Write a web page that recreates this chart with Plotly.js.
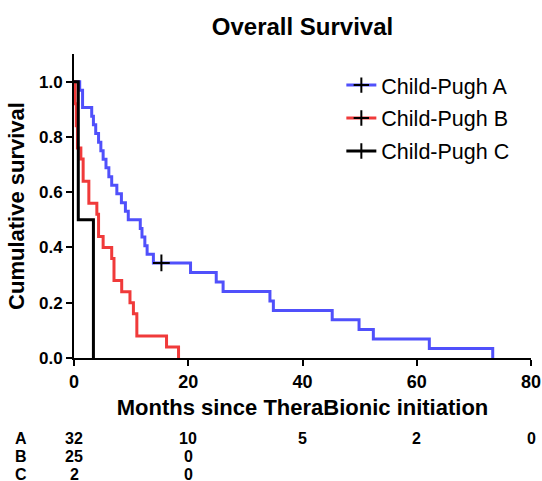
<!DOCTYPE html>
<html>
<head>
<meta charset="utf-8">
<script src="https://cdn.plot.ly/plotly-3.0.1.min.js"></script>
<style>html,body{margin:0;padding:0;background:#fff;}#chart{width:542px;height:481px;}</style>
</head>
<body>
<div id="chart"></div>
<script>
// ---- data ----
const seriesNames = ['Child-Pugh A', 'Child-Pugh B', 'Child-Pugh C'];

const timesA = [0, 1.0, 1.5, 3.1, 3.4, 3.8, 4.3, 4.7, 5.1, 5.6, 6.1, 6.6, 7.5, 8.3, 9.0, 9.5, 11.6, 11.9, 12.4, 12.8, 13.9, 20.4, 24.9, 26.1, 34.3, 34.9, 45.2, 49.9, 52.4, 62.2, 73.3];
const survA  = [1.0, 0.969, 0.906, 0.875, 0.844, 0.812, 0.781, 0.750, 0.719, 0.688, 0.656, 0.625, 0.594, 0.562, 0.531, 0.500, 0.469, 0.438, 0.406, 0.375, 0.344, 0.309, 0.275, 0.241, 0.206, 0.172, 0.138, 0.103, 0.069, 0.034, 0.0];

const timesB = [0, 0.2, 0.4, 0.6, 1.2, 1.6, 2.6, 4.0, 4.3, 5.1, 6.6, 7.0, 8.35, 9.8, 10.4, 11.0, 16.2, 18.3];
const survB  = [1.0, 0.92, 0.84, 0.76, 0.72, 0.64, 0.56, 0.52, 0.44, 0.40, 0.36, 0.28, 0.24, 0.20, 0.16, 0.08, 0.04, 0.0];

const timesC = [0, 0.75, 3.4];
const survC  = [1.0, 0.5, 0.0];

const censorTimesA = [15.3];
const censorSurvA  = [0.344];

const riskTimes = [0, 20, 40, 60, 80];
const riskLabels = ['A', 'B', 'C'];
const riskA = [32, 10, 5, 2, 0];
const riskB = [25, 0];
const riskC = [2, 0];

const xTicks = [0, 20, 40, 60, 80];
const yTicks = [0, 0.2, 0.4, 0.6, 0.8, 1.0];

// ---- styling ----
const FONT = 'Liberation Sans, Arial, Helvetica, sans-serif';
const colors = ['#5050fb', '#f03a3a', '#000000'];
const lineW = 3;

const curves = [[timesA, survA], [timesB, survB], [timesC, survC]];
const traces = [];
curves.forEach((c, i) => {
  traces.push({
    x: c[0], y: c[1], type: 'scatter', mode: 'lines',
    line: {shape: 'hv', color: colors[i], width: lineW},
    showlegend: false, hoverinfo: 'skip', cliponaxis: true
  });
});
traces.push({
  x: censorTimesA, y: censorSurvA, type: 'scatter', mode: 'markers',
  marker: {symbol: 'cross-thin-open', size: 12, color: '#000', line: {width: 2, color: '#000'}},
  showlegend: false, hoverinfo: 'skip'
});
// legend entries
seriesNames.forEach((n, i) => {
  traces.push({
    x: [null], y: [null], type: 'scatter', mode: 'lines+markers', name: n,
    legendgroup: 'g' + i,
    line: {color: colors[i], width: lineW},
    marker: {symbol: 'cross-thin-open', size: 11, color: '#000', line: {width: 2, color: '#000'}}
  });
});

// number-at-risk table
const annotations = [];
const riskRows = [riskA, riskB, riskC];
const rowY = [-0.266, -0.324, -0.382];
riskRows.forEach((row, r) => {
  annotations.push({
    text: riskLabels[r], xref: 'paper', yref: 'paper', x: -0.115, y: rowY[r],
    xanchor: 'center', yanchor: 'middle', showarrow: false,
    font: {family: FONT, size: 16, weight: 'bold', color: '#000'}
  });
  row.forEach((v, k) => {
    annotations.push({
      text: String(v), xref: 'x', yref: 'paper', x: riskTimes[k], y: rowY[r],
      xanchor: 'center', yanchor: 'middle', showarrow: false,
      font: {family: FONT, size: 16, weight: 'bold', color: '#000'}
    });
  });
});

const layout = {
  width: 542, height: 481,
  margin: {l: 74, r: 11, t: 54, b: 123},
  paper_bgcolor: '#fff', plot_bgcolor: '#fff',
  font: {family: FONT, color: '#000'},
  title: {text: 'Overall Survival', font: {family: FONT, size: 24, weight: 'bold', color: '#000'},
          x: 0.5, xref: 'paper', xanchor: 'center', y: 0.944, yanchor: 'middle'},
  xaxis: {
    range: [0, 80], tickvals: xTicks, ticktext: xTicks.map(String),
    showline: true, linecolor: '#000', linewidth: 2, mirror: false,
    ticks: 'outside', ticklen: 6, tickwidth: 2, tickcolor: '#000',
    showgrid: false, zeroline: false,
    tickfont: {family: FONT, size: 18, weight: 'bold', color: '#000'},
    title: {text: 'Months since TheraBionic initiation', standoff: 9,
            font: {family: FONT, size: 22, weight: 'bold', color: '#000'}}
  },
  yaxis: {
    range: [0, 1.1], tickvals: yTicks, ticktext: yTicks.map(v => v.toFixed(1)),
    showline: true, linecolor: '#000', linewidth: 2,
    ticks: 'outside', ticklen: 6, tickwidth: 2, tickcolor: '#000',
    showgrid: false, zeroline: false,
    tickfont: {family: FONT, size: 17, weight: 'bold', color: '#000'},
    title: {text: 'Cumulative survival', standoff: 8,
            font: {family: FONT, size: 22, weight: 'bold', color: '#000'}}
  },
  legend: {
    x: 0.585, y: 0.965, xanchor: 'left', yanchor: 'top',
    font: {family: FONT, size: 21.5, color: '#000'},
    bgcolor: 'rgba(0,0,0,0)', borderwidth: 0, tracegroupgap: 2,
    itemclick: false, itemdoubleclick: false
  },
  annotations: annotations,
  showlegend: true
};

Plotly.newPlot('chart', traces, layout, {displayModeBar: false, staticPlot: true});
</script>
</body>
</html>
